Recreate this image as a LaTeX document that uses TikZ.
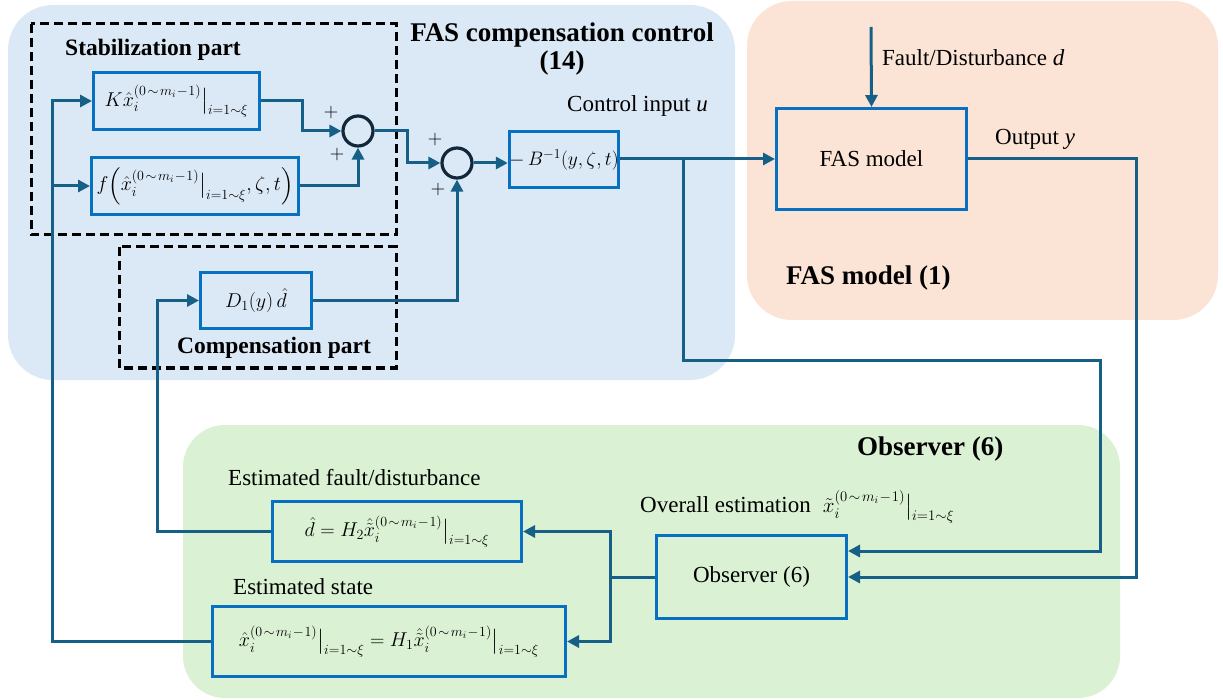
\documentclass[tikz,border=0pt]{standalone}
\usepackage{fix-cm}
\usepackage{amsmath}
\usepackage{fontspec}
\IfFontExistsTF{LiberationSerif-Regular.ttf}{%
  \setmainfont{LiberationSerif}[Extension=.ttf,
    UprightFont=*-Regular, BoldFont=*-Bold,
    ItalicFont=*-Italic, BoldItalicFont=*-BoldItalic]}{%
  \setmainfont{Liberation Serif}}
\usetikzlibrary{arrows.meta,calc}

\definecolor{bgblue}{RGB}{219,232,245}
\definecolor{bgorange}{RGB}{251,227,214}
\definecolor{bggreen}{RGB}{218,241,211}
\definecolor{wire}{RGB}{22,96,136}
\definecolor{boxblue}{RGB}{8,112,192}
\definecolor{sumdark}{RGB}{18,40,58}

% exponent used throughout the estimation formulas
\newcommand{\ordexp}{(0\mkern2mu{\sim}\mkern2mu m_i\mkern1mu{-}\mkern1mu 1)}
\newcommand{\idxrange}{\big|_{i=1\sim\xi}}

\tikzset{
  txt/.style={font=\fontsize{23}{27}\selectfont, inner sep=0pt},
  ttl/.style={font=\fontsize{23.5}{27}\selectfont\bfseries, inner sep=0pt},
  bigttl/.style={font=\fontsize{27}{28}\selectfont\bfseries, inner sep=0pt},
  blk/.style={draw=boxblue, line width=3pt, inner sep=0pt,
              font=\fontsize{20}{24}\selectfont},
  sumnode/.style={circle, draw=sumdark, line width=3.2pt, minimum size=30pt, inner sep=0pt},
  wireline/.style={draw=wire, line width=3pt},
  arr/.style={wireline, -{Triangle[length=12pt,width=12pt]}},
  part/.style={draw=black, line width=3pt, dash pattern=on 9pt off 5pt},
  pm/.style={font=\fontsize{20}{22}\selectfont, inner sep=0pt},
}

\begin{document}
\begin{tikzpicture}[x=1pt,y=-1pt]
\useasboundingbox (0,0) rectangle (1223,700);

% shaded regions
\fill[bgblue, rounded corners=45pt] (8,5) rectangle (735,380);
\fill[bgorange, rounded corners=45pt] (747,1) rectangle (1218,320);
\fill[bggreen, rounded corners=42pt] (183,425) rectangle (1120,698);

% dashed groupings
\draw[part] (31,24) rectangle (396,235);
\draw[part] (119,247) rectangle (396,368);

% region titles
\node[ttl, anchor=west] (tstab) at (65,50) {Stabilization part};
\node[bigttl, align=center] (tfas) at (562,49) {FAS compensation control\\(14)};
\node[ttl] (tcomp) at (274,348) {Compensation part};
\node[bigttl, anchor=west] (tmodel) at (786,278) {FAS model (1)};
\node[bigttl, anchor=west] (tobs) at (857,449) {Observer (6)};

% blocks
\node[blk, minimum width=166pt, minimum height=57pt] (K) at (176.5,101)
  {$K\hat{x}_i^{\ordexp}\idxrange$};
\node[blk, minimum width=207pt, minimum height=57pt] (F) at (195,186)
  {$f\Big(\hat{x}_i^{\ordexp}\idxrange,\zeta,t\Big)$};
\node[blk, minimum width=111pt, minimum height=56pt] (D) at (256,300.5)
  {$D_1(y)\,\hat{d}$};
\node[blk, minimum width=109pt, minimum height=56pt, font=\fontsize{19.5}{23}\selectfont] (B) at (564,160)
  {$-\,B^{-1}(y,\zeta,t)$};
\node[blk, minimum width=190pt, minimum height=101pt, font=\fontsize{23}{27}\selectfont] (M) at (871.5,159)
  {FAS model};
\node[blk, minimum width=190pt, minimum height=83pt, font=\fontsize{23}{27}\selectfont] (O) at (751.5,577)
  {Observer (6)};
\node[blk, minimum width=249pt, minimum height=60pt] (Hd) at (397,531.5)
  {$\hat{d}=H_2\hat{\tilde{x}}_i^{\ordexp}\idxrange$};
\node[blk, minimum width=353pt, minimum height=70pt] (Hx) at (389,641.5)
  {$\hat{x}_i^{\ordexp}\idxrange=H_1\hat{\tilde{x}}_i^{\ordexp}\idxrange$};

% summing junctions
\node[sumnode] (S1) at (358,131) {};
\node[sumnode] (S2) at (457,163) {};
\node[pm] (p1) at (331,113) {$+$};
\node[pm] (p2) at (337,155) {$+$};
\node[pm] (p3) at (435,140) {$+$};
\node[pm] (p4) at (438,190) {$+$};

% signal labels
\node[txt, anchor=west] (lu) at (567,106) {Control input \textit{u}};
\node[txt, anchor=west] (ld) at (882,58) {Fault/Disturbance \textit{d}};
\node[txt, anchor=west] (ly) at (995,139) {Output \textit{y}};
\node[txt, anchor=west] (lx) at (640,507)
  {Overall estimation\; {\fontsize{21}{24}\selectfont$\tilde{x}_i^{\ordexp}\idxrange$}};
\node[txt, anchor=west] (lfd) at (228,478) {Estimated fault/disturbance};
\node[txt, anchor=west] (lst) at (233,587) {Estimated state};

% free ends and bends
\coordinate (din) at (871,27);
\coordinate (uj) at (683,159);
\coordinate (oj) at (610,577);

% control path
\draw[arr] (K.east) -- (302,101) |- (S1.west);
\draw[arr] (F.east) -| (S1.south);
\draw[arr] (S1.east) -- (407,131) |- (S2.west);
\draw[arr] (D.east) -| (S2.south);
\draw[arr] (S2.east) -- (S2.east -| B.west);
\draw[arr] (B.east |- M.west) -- (M.west);
\draw[arr] (din) -- (M.north);

% feedback to the observer
\draw[arr] (uj) -- (683,361) -- (1100,361) |- ([yshift=26pt]O.east);
\draw[arr] (M.east) -- (1136,159) |- (O.east);

% observer outputs
\draw[wireline] (O.west) -- (oj);
\draw[arr] (oj) |- (Hd.east);
\draw[arr] (oj) |- (Hx.east);

% estimates returned to the controller
\draw[arr] (Hd.west) -- (157,531.5) |- (D.west);
\draw[arr] (Hx.west) -- (52,641.5) |- (K.west);
\draw[arr] (52,186) -- (F.west);
\end{tikzpicture}
\end{document}
